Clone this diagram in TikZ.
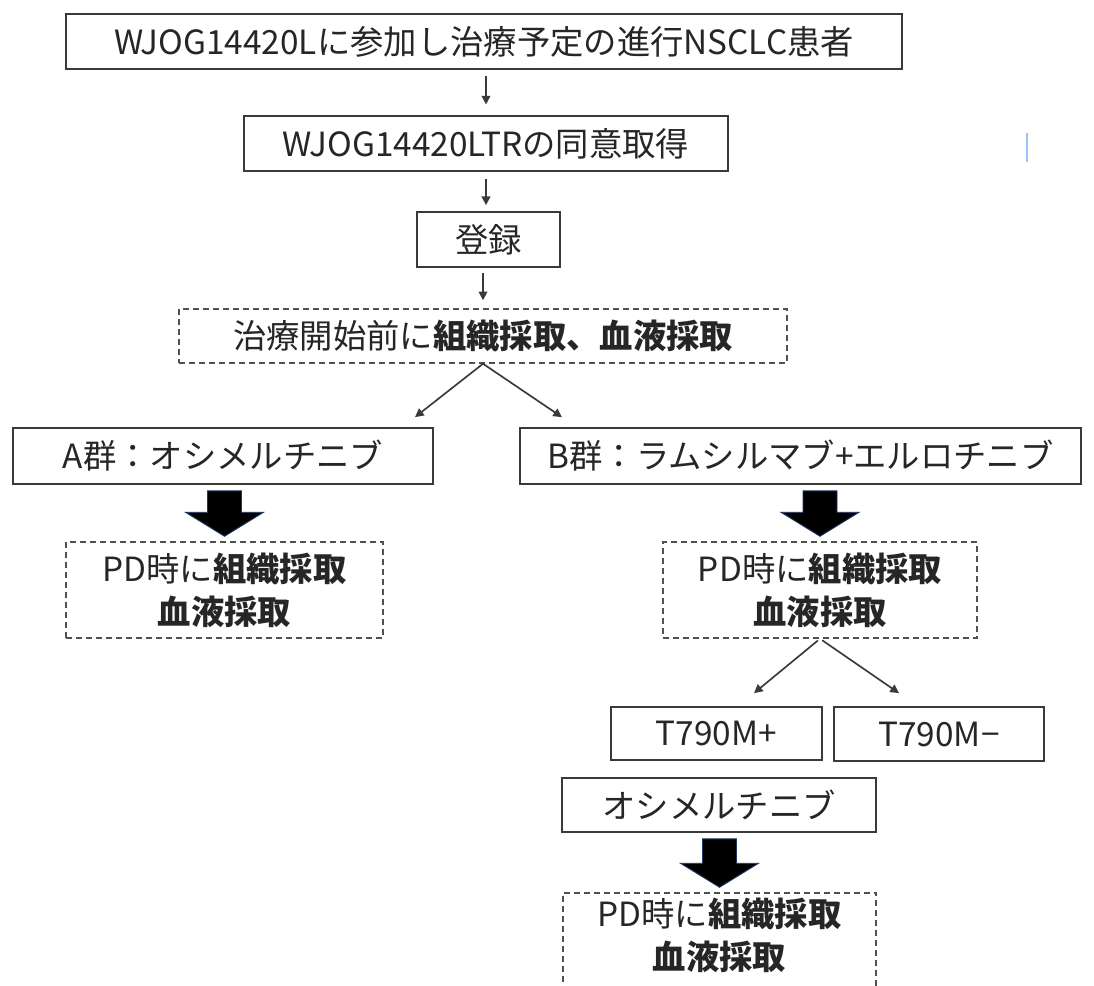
\documentclass[tikz,border=0pt]{standalone}
\usepackage{fontspec}
\setmainfont{Noto Sans CJK JP}
\usetikzlibrary{arrows.meta,calc}
\definecolor{boxgray}{HTML}{3A3A3A}
\definecolor{dashgray}{HTML}{505050}
\definecolor{txtgray}{HTML}{262626}
\definecolor{headnavy}{HTML}{1F3864}
\definecolor{cursorblue}{HTML}{9CC3F5}
\newcommand\blkarrow[2]{%
  \filldraw[blk] let \p1=(#1.south), \p2=(#2.north) in
    ({\x2-12.75pt},{\y1-4.5pt}) -- ({\x2+12.75pt},{\y1-4.5pt}) --
    ({\x2+12.75pt},{\y2+21.75pt}) -- ({\x2+29.25pt},{\y2+21.75pt}) --
    ({\x2},{\y2+3.75pt}) --
    ({\x2-29.25pt},{\y2+21.75pt}) -- ({\x2-12.75pt},{\y2+21.75pt}) -- cycle;}
\tikzset{
  txt/.style={font=\fontsize{25}{32}\selectfont, text=txtgray, align=center, inner sep=0pt},
  box/.style={txt, draw=boxgray, line width=1.3pt},
  dbox/.style={txt, draw=dashgray, line width=1.1pt, dash pattern=on 4.5pt off 3pt},
  arr/.style={draw=boxgray, line width=1.25pt, -{Triangle[length=6.5pt,width=6.5pt]}},
  blk/.style={fill=black, draw=headnavy, line width=0.7pt, line join=miter}
}
\begin{document}
\begin{tikzpicture}[x=0.75pt,y=-0.75pt]
\useasboundingbox (0,0) rectangle (1094,985);

\node[box, minimum width=627pt, minimum height=41.25pt] (n1) at (484,41.5)
  {WJOG14420Lに参加し治療予定の進行NSCLC患者};
\node[box, minimum width=363pt, minimum height=41.25pt] (n2) at (486,143.5)
  {WJOG14420LTRの同意取得};
\node[box, minimum width=107.25pt, minimum height=41.25pt] (n3) at (488.5,239.5)
  {登録};
\node[dbox, minimum width=456pt, minimum height=40.5pt] (n4) at (483,336)
  {治療開始前に\textbf{組織採取、血液採取}};
\node[box, minimum width=315pt, minimum height=42pt] (nA) at (223,456)
  {A群：オシメルチニブ};
\node[box, minimum width=420.75pt, minimum height=42pt] (nB) at (800.5,456)
  {B群：ラムシルマブ+エルロチニブ};
\node[dbox, minimum width=237.75pt, minimum height=72pt] (pA) at (224.5,590)
  {PD時に\textbf{組織採取}\\\textbf{血液採取}};
\node[dbox, minimum width=235.5pt, minimum height=72pt] (pB) at (820,590)
  {PD時に\textbf{組織採取}\\\textbf{血液採取}};
\node[box, minimum width=158.25pt, minimum height=39.75pt] (tP) at (716.5,733.5)
  {T790M+};
\node[box, minimum width=157.5pt, minimum height=40.5pt] (tM) at (939,734)
  {T790M−};
\node[box, minimum width=235.5pt, minimum height=40.5pt] (osi) at (719,805)
  {オシメルチニブ};
\node[dbox, minimum width=235pt, minimum height=82.5pt] (pC) at (719.5,948)
  {};
\node[txt] (pCt) at (719.5,935) {PD時に\textbf{組織採取}\\\textbf{血液採取}};

% thin arrows
\draw[arr, shorten <=4.5pt, shorten >=8pt] (n1.south -| n2.north) -- (n2.north);
\draw[arr, shorten <=5pt, shorten >=4.5pt] (n2.south) -- (n2.south |- n3.north);
\draw[arr, shorten <=3.75pt, shorten >=6pt] (n3.south -| n4.north) -- (n4.north);
\draw[arr] (n4.south) -- ([xshift=144pt,yshift=7.5pt]nA.north);
\draw[arr] (n4.south) -- ([xshift=-178.9pt,yshift=7.5pt]nB.north);
\draw[arr, shorten <=2pt] (pB.south) -- ([xshift=28.1pt,yshift=9.75pt]tP.north);
\draw[arr, shorten <=2pt] (pB.south) -- ([xshift=-30pt,yshift=9.75pt]tM.north);

% block arrows
\blkarrow{nA}{pA}
\blkarrow{nB}{pB}
\blkarrow{osi}{pC}

% small blue mark
\draw[cursorblue, line width=2pt] (1027,133) -- (1027,162);
\end{tikzpicture}
\end{document}
